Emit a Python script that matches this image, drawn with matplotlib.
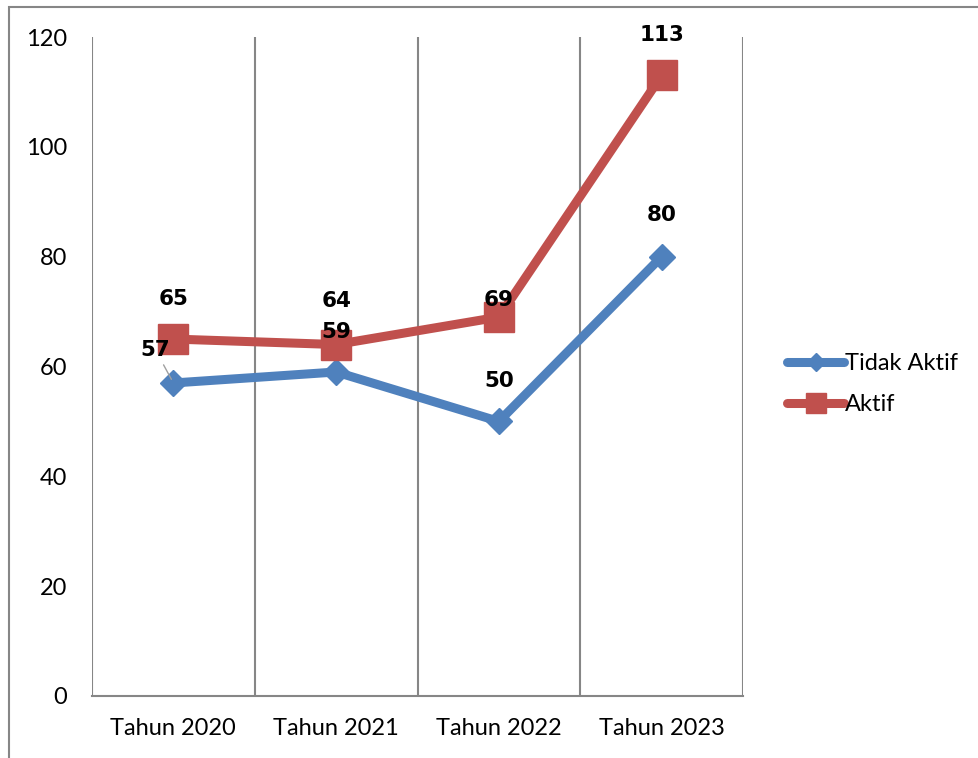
import matplotlib.pyplot as plt
from matplotlib.patches import Rectangle

# data
tahun = ['Tahun 2020', 'Tahun 2021', 'Tahun 2022', 'Tahun 2023']
tidak_aktif = [57, 59, 50, 80]
aktif = [65, 64, 69, 113]

# label offsets in points (dx, dy), Excel style placement
off_tidak = [(-13, 24), (0, 29), (0, 29), (0, 30)]
off_aktif = [(0, 29), (0, 31), (0, 12), (0, 29)]

biru = '#4F81BD'
merah = '#C0504D'
abu = '#868686'

plt.rcParams['font.family'] = ['Lato', 'DejaVu Sans']
label_font = dict(family='DejaVu Sans', fontsize=15.5, fontweight='bold')

fig = plt.figure(figsize=(9.79, 7.58), dpi=100)
fig.patches.append(Rectangle((9 / 979, -0.1), 1.2, 1.1 - 7 / 758,
                             transform=fig.transFigure, fill=False,
                             edgecolor=abu, linewidth=1.5))
ax = fig.add_axes([92 / 979, 62 / 758, 651 / 979, 659 / 758])

x = list(range(len(tahun)))
ax.plot(x, tidak_aktif, color=biru, linewidth=6.5, marker='D', markersize=13.5,
        solid_capstyle='round', label='Tidak Aktif', zorder=3)
ax.plot(x, aktif, color=merah, linewidth=6.5, marker='s', markersize=21,
        solid_capstyle='round', label='Aktif', zorder=3)

for i in x:
    dx, dy = off_tidak[i]
    if i == 0:
        ax.annotate(str(tidak_aktif[i]), (i, tidak_aktif[i]), xytext=(dx, dy),
                    textcoords='offset points', ha='center', va='center',
                    zorder=5, **label_font,
                    arrowprops=dict(arrowstyle='-', color='#A0A0A0', lw=1,
                                    shrinkA=2, shrinkB=3))
    else:
        ax.annotate(str(tidak_aktif[i]), (i, tidak_aktif[i]), xytext=(dx, dy),
                    textcoords='offset points', ha='center', va='center',
                    zorder=5, **label_font)
    dx, dy = off_aktif[i]
    ax.annotate(str(aktif[i]), (i, aktif[i]), xytext=(dx, dy),
                textcoords='offset points', ha='center', va='center',
                zorder=5, **label_font)

ax.set_xlim(-0.5, 3.5)
ax.set_ylim(0, 120)
ax.set_yticks(range(0, 121, 20))
ax.set_xticks(x)
ax.set_xticklabels(tahun)
ax.set_xticks([-0.5, 0.5, 1.5, 2.5, 3.5], minor=True)
ax.grid(True, which='minor', axis='x', color=abu, linewidth=1.5)
ax.tick_params(axis='both', which='both', length=0, labelsize=17)
ax.tick_params(axis='y', pad=18)
ax.tick_params(axis='x', pad=16)
for s in ['top', 'right', 'left']:
    ax.spines[s].set_visible(False)
ax.spines['bottom'].set_color(abu)
ax.spines['bottom'].set_linewidth(1.5)

ax.legend(loc='center left', bbox_to_anchor=(766 / 979, 1 - 384 / 758),
          bbox_transform=fig.transFigure, frameon=False, fontsize=17,
          handlelength=2.4, handletextpad=0.05, labelspacing=0.85,
          markerscale=0.7)

fig.savefig('out.png', dpi=100)
